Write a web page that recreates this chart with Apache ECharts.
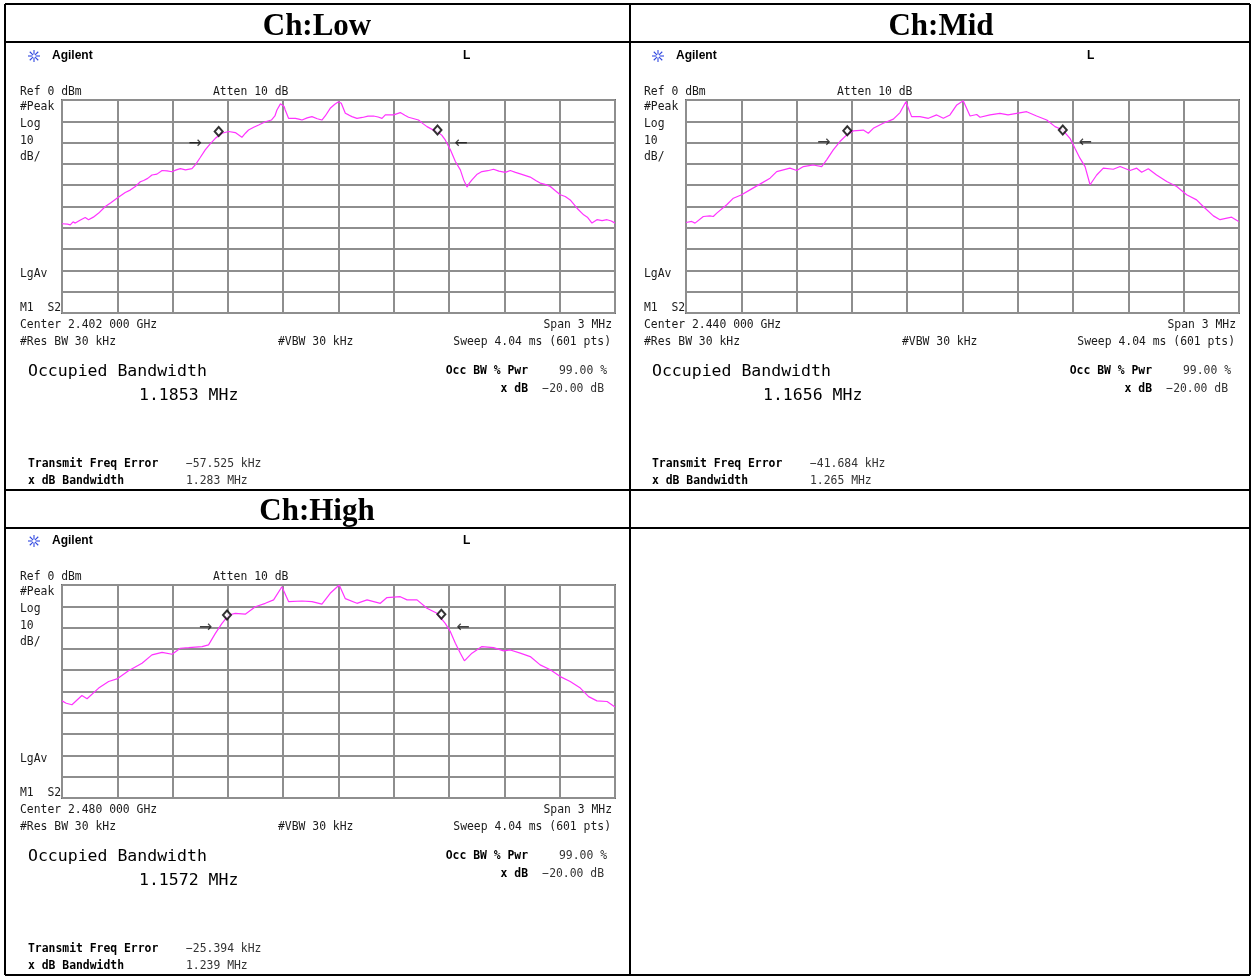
<!DOCTYPE html>
<html><head><meta charset="utf-8">
<script src="https://cdn.jsdelivr.net/npm/echarts@6/dist/echarts.min.js"></script>
<style>html,body{margin:0;padding:0;background:#fff}#c{width:1251px;height:976px}</style>
</head><body><div id="c"></div>
<script>
// ---------- DATA (frequency offset from centre in MHz, level in dBm) ----------
const panelTitles = ['Ch:Low', 'Ch:Mid', 'Ch:High'];
const centerFreqs = ['2.402 000 GHz', '2.440 000 GHz', '2.480 000 GHz'];
const obwValues = ['1.1853 MHz', '1.1656 MHz', '1.1572 MHz'];
const freqErrors = ['\u221257.525 kHz', '\u221241.684 kHz', '\u221225.394 kHz'];
const xdbBandwidths = ['1.283 MHz', '1.265 MHz', '1.239 MHz'];

const lowFreq = [-1.500,-1.470,-1.455,-1.440,-1.428,-1.400,-1.374,-1.356,-1.330,-1.301,-1.265,-1.235,-1.202,-1.157,-1.130,-1.102,-1.075,-1.057,-1.035,-1.012,-0.985,-0.957,-0.930,-0.903,-0.880,-0.858,-0.830,-0.795,-0.777,-0.750,-0.723,-0.695,-0.668,-0.632,-0.596,-0.560,-0.524,-0.505,-0.488,-0.460,-0.433,-0.397,-0.364,-0.345,-0.334,-0.315,-0.307,-0.295,-0.289,-0.271,-0.234,-0.215,-0.198,-0.170,-0.144,-0.115,-0.090,-0.072,-0.045,-0.020,0.000,0.015,0.037,0.055,0.073,0.100,0.130,0.160,0.190,0.215,0.236,0.254,0.299,0.335,0.360,0.380,0.434,0.460,0.480,0.510,0.534,0.560,0.579,0.607,0.634,0.661,0.679,0.697,0.710,0.724,0.750,0.778,0.810,0.841,0.870,0.905,0.932,0.960,0.986,1.015,1.040,1.070,1.094,1.120,1.149,1.175,1.203,1.230,1.257,1.294,1.330,1.350,1.375,1.402,1.430,1.457,1.480,1.500];
const lowLevel = [-58.1,-58.3,-58.6,-57.2,-57.8,-56.3,-55.2,-56.2,-55.0,-53.1,-50.0,-48.2,-46.1,-43.4,-42.3,-40.6,-38.4,-37.8,-36.8,-35.2,-34.8,-33.1,-33.3,-33.7,-32.8,-32.2,-32.8,-32.2,-30.5,-27.0,-23.4,-20.5,-18.0,-15.6,-14.8,-15.3,-17.5,-15.6,-14.1,-12.8,-11.7,-10.2,-9.4,-7.5,-4.7,-1.8,-1.2,-3.0,-4.7,-8.6,-8.6,-9.0,-9.4,-8.4,-7.8,-8.8,-9.4,-7.5,-3.9,-2.0,-0.8,-1.5,-6.25,-7.0,-7.8,-8.6,-8.2,-7.6,-7.5,-8.0,-8.6,-7.0,-7.0,-5.9,-7.2,-8.1,-9.4,-11.2,-12.5,-13.9,-14.8,-16.5,-18.75,-23.4,-28.9,-32.8,-37.5,-40.9,-39.0,-37.5,-35.0,-33.6,-33.2,-32.5,-33.4,-34.0,-33.1,-34.0,-34.7,-35.5,-36.2,-37.8,-39.0,-39.6,-40.6,-42.5,-44.5,-45.3,-46.9,-50.8,-53.9,-55.0,-57.8,-56.2,-56.6,-56.2,-56.8,-57.8];

const midFreq = [-1.500,-1.469,-1.451,-1.406,-1.370,-1.352,-1.333,-1.279,-1.243,-1.198,-1.153,-1.099,-1.044,-1.008,-0.972,-0.936,-0.899,-0.863,-0.809,-0.764,-0.737,-0.701,-0.665,-0.628,-0.592,-0.538,-0.511,-0.484,-0.430,-0.375,-0.339,-0.307,-0.276,-0.231,-0.185,-0.140,-0.104,-0.068,-0.031,0.004,0.041,0.077,0.095,0.149,0.203,0.247,0.294,0.348,0.402,0.457,0.502,0.544,0.583,0.610,0.637,0.665,0.692,0.728,0.764,0.818,0.855,0.909,0.945,0.972,1.008,1.053,1.108,1.162,1.216,1.270,1.306,1.361,1.397,1.460,1.498];
const midLevel = [-57.5,-57.0,-57.8,-54.7,-54.4,-54.7,-53.1,-49.2,-46.1,-44.5,-42.2,-39.5,-36.7,-33.6,-32.8,-32.0,-33.1,-31.25,-30.5,-31.25,-28.1,-23.4,-19.5,-16.4,-14.5,-14.1,-15.6,-13.3,-10.9,-9.0,-5.9,-0.8,-7.8,-7.8,-8.6,-7.0,-8.6,-7.0,-2.3,-0.3,-7.5,-6.8,-8.1,-7.0,-6.25,-7.0,-6.25,-5.5,-7.5,-9.4,-12.5,-14.1,-18.0,-22.7,-27.3,-31.25,-39.8,-35.2,-32.0,-32.5,-31.25,-33.1,-32.0,-33.9,-32.3,-35.2,-38.3,-40.6,-44.5,-46.9,-50.0,-54.4,-56.2,-55.0,-57.0];

const highFreq = [-1.500,-1.477,-1.446,-1.392,-1.364,-1.301,-1.247,-1.202,-1.139,-1.066,-1.012,-0.957,-0.903,-0.858,-0.813,-0.740,-0.705,-0.668,-0.632,-0.596,-0.560,-0.506,-0.451,-0.397,-0.352,-0.307,-0.271,-0.198,-0.144,-0.090,-0.045,0.004,0.037,0.100,0.155,0.227,0.263,0.335,0.372,0.426,0.480,0.534,0.579,0.607,0.634,0.661,0.683,0.724,0.778,0.841,0.896,0.932,0.986,1.040,1.094,1.149,1.203,1.257,1.312,1.357,1.402,1.457,1.500];
const highLevel = [-54.4,-55.5,-56.2,-51.9,-53.4,-48.4,-45.3,-44.1,-40.3,-36.7,-32.8,-31.6,-32.5,-29.7,-29.4,-28.9,-28.1,-22.7,-18.0,-14.1,-13.3,-13.7,-10.2,-8.6,-7.0,-0.8,-7.8,-7.5,-7.8,-9.0,-3.9,0.0,-6.4,-8.6,-7.0,-8.6,-5.9,-5.5,-7.0,-7.0,-10.9,-13.3,-18.0,-21.9,-27.3,-32.0,-35.6,-32.0,-28.9,-29.4,-30.9,-30.5,-32.0,-33.6,-37.5,-39.8,-43.0,-45.3,-48.4,-52.4,-54.4,-54.7,-57.3];

// occupied-bandwidth edge markers (diamonds)
const lowMarkerFreq = [-0.650, 0.537];
const lowMarkerLevel = [-14.8, -14.1];
const midMarkerFreq = [-0.625, 0.544];
const midMarkerLevel = [-14.4, -14.1];
const highMarkerFreq = [-0.605, 0.558];
const highMarkerLevel = [-14.1, -13.7];
// x dB bandwidth arrows
const lowArrowFreq = [-0.777, 0.664];
const lowArrowLevel = [-20.8, -20.8];
const midArrowFreq = [-0.751, 0.665];
const midArrowLevel = [-20.3, -20.3];
const highArrowFreq = [-0.720, 0.675];
const highArrowLevel = [-20.0, -20.0];

// ---------- BUILD ----------
const MONO = "11.4px 'DejaVu Sans Mono', 'Liberation Mono', monospace";
const MONOB = "bold 11.4px 'DejaVu Sans Mono', 'Liberation Mono', monospace";
const BIG = "16.5px 'DejaVu Sans Mono', 'Liberation Mono', monospace";

const panels = [
  {dx:0, dy:0, freq:lowFreq, level:lowLevel, mF:lowMarkerFreq, mL:lowMarkerLevel, aF:lowArrowFreq, aL:lowArrowLevel},
  {dx:624, dy:0, freq:midFreq, level:midLevel, mF:midMarkerFreq, mL:midMarkerLevel, aF:midArrowFreq, aL:midArrowLevel},
  {dx:0, dy:485, freq:highFreq, level:highLevel, mF:highMarkerFreq, mL:highMarkerLevel, aF:highArrowFreq, aL:highArrowLevel}
];

const grids = [], xAxes = [], yAxes = [], series = [], graphics = [];

function txt(x, y, text, font, align, fill) {
  graphics.push({type:'text', x:x, y:y, silent:true, z:10,
    style:{text:text, font:font || MONO, fill:fill || '#1a1a1a',
      align:align || 'left', textAlign:align || 'left',
      verticalAlign:'middle', textVerticalAlign:'middle'}});
}
function line(x1, y1, x2, y2, w, c) {
  graphics.push({type:'line', silent:true, z:10, shape:{x1:x1, y1:y1, x2:x2, y2:y2},
    style:{stroke:c || '#000', lineWidth:w || 2}});
}

panels.forEach((p, i) => {
  grids.push({left:62 + p.dx, top:100 + p.dy, width:553, height:213, show:true,
    borderColor:'#6a6a6a', borderWidth:2, backgroundColor:'#fff', containLabel:false, outerBoundsMode:'none'});
  xAxes.push({type:'value', gridIndex:i, min:-1.5, max:1.5, interval:0.3,
    axisLabel:{show:false}, axisTick:{show:false}, axisLine:{show:false},
    splitLine:{show:true, lineStyle:{color:'#8e8e8e', width:2}}});
  yAxes.push({type:'value', gridIndex:i, min:-100, max:0, interval:10,
    axisLabel:{show:false}, axisTick:{show:false}, axisLine:{show:false},
    splitLine:{show:true, lineStyle:{color:'#8e8e8e', width:2}}});
  series.push({type:'line', xAxisIndex:i, yAxisIndex:i, silent:true, animation:false,
    symbol:'none', showSymbol:false, z:3,
    lineStyle:{color:'#ff33ff', width:1.2},
    data:p.freq.map((f, k) => [f, p.level[k]])});
  series.push({type:'scatter', xAxisIndex:i, yAxisIndex:i, silent:true, animation:false,
    symbol:'diamond', symbolSize:[8, 9], z:5,
    itemStyle:{color:'#fff', borderColor:'#000', borderWidth:2},
    data:p.mF.map((f, k) => [f, p.mL[k]])});
  series.push({type:'scatter', xAxisIndex:i, yAxisIndex:i, silent:true, animation:false,
    symbol:'circle', symbolSize:1, z:5, itemStyle:{color:'rgba(0,0,0,0)'},
    label:{show:true, position:'inside', color:'#111', fontSize:16, fontFamily:'DejaVu Sans',
      formatter:(q) => q.dataIndex === 0 ? '\u2192' : '\u2190'},
    data:p.aF.map((f, k) => [f, p.aL[k]])});

  const dx = p.dx, dy = p.dy + 2;
  // Agilent star logo
  const cx = 34 + dx, cy = 54 + dy;
  for (let a = 0; a < 8; a++) {
    const ang = a * Math.PI / 4;
    line(cx + Math.cos(ang) * 1.5, cy + Math.sin(ang) * 1.5, cx + Math.cos(ang) * 6, cy + Math.sin(ang) * 6, 1.1, '#3048e0');
  }
  txt(52 + dx, 54 + dy, 'Agilent', "bold 12px 'Liberation Sans', Arial, sans-serif", 'left', '#000');
  txt(463 + dx, 54 + dy, 'L', "bold 12px 'Liberation Sans', Arial, sans-serif", 'left', '#000');
  txt(20 + dx, 90 + dy, 'Ref 0 dBm');
  txt(213 + dx, 90 + dy, 'Atten 10 dB');
  txt(20 + dx, 105 + dy, '#Peak');
  txt(20 + dx, 122 + dy, 'Log');
  txt(20 + dx, 139 + dy, '10');
  txt(20 + dx, 155 + dy, 'dB/');
  txt(20 + dx, 272 + dy, 'LgAv');
  txt(20 + dx, 306 + dy, 'M1  S2');
  txt(20 + dx, 323 + dy, 'Center ' + centerFreqs[i]);
  txt(612 + dx, 323 + dy, 'Span 3 MHz', MONO, 'right');
  txt(20 + dx, 340 + dy, '#Res BW 30 kHz');
  txt(278 + dx, 340 + dy, '#VBW 30 kHz');
  txt(611 + dx, 340 + dy, 'Sweep 4.04 ms (601 pts)', MONO, 'right');
  txt(28 + dx, 370 + dy, 'Occupied Bandwidth', BIG, 'left', '#000');
  txt(139 + dx, 394 + dy, obwValues[i], BIG, 'left', '#000');
  txt(528 + dx, 369 + dy, 'Occ BW % Pwr', MONOB, 'right', '#000');
  txt(607 + dx, 369 + dy, '99.00 %', MONO, 'right', '#333');
  txt(528 + dx, 387 + dy, 'x dB', MONOB, 'right', '#000');
  txt(604 + dx, 387 + dy, '\u221220.00 dB', MONO, 'right', '#333');
  txt(28 + dx, 462 + dy, 'Transmit Freq Error', MONOB, 'left', '#000');
  txt(186 + dx, 462 + dy, freqErrors[i], MONO, 'left', '#333');
  txt(28 + dx, 479 + dy, 'x dB Bandwidth', MONOB, 'left', '#000');
  txt(186 + dx, 479 + dy, xdbBandwidths[i], MONO, 'left', '#333');
});

// panel titles
const TITLE = "bold 31px 'Liberation Serif', 'Times New Roman', serif";
txt(317, 27, panelTitles[0], TITLE, 'center', '#000');
txt(941, 27, panelTitles[1], TITLE, 'center', '#000');
txt(317, 512, panelTitles[2], TITLE, 'center', '#000');

// table lines
line(5, 4, 1250, 4);
line(5, 975, 1250, 975);
line(5, 4, 5, 975);
line(1250, 4, 1250, 975);
line(630, 4, 630, 975);
line(5, 42, 1250, 42);
line(5, 490, 1250, 490);
line(5, 528, 1250, 528);

const chart = echarts.init(document.getElementById('c'), null, {renderer:'canvas'});
chart.setOption({
  animation:false,
  backgroundColor:'#fff',
  grid:grids, xAxis:xAxes, yAxis:yAxes, series:series,
  graphic:{elements:graphics}
});
</script>
</body></html>
